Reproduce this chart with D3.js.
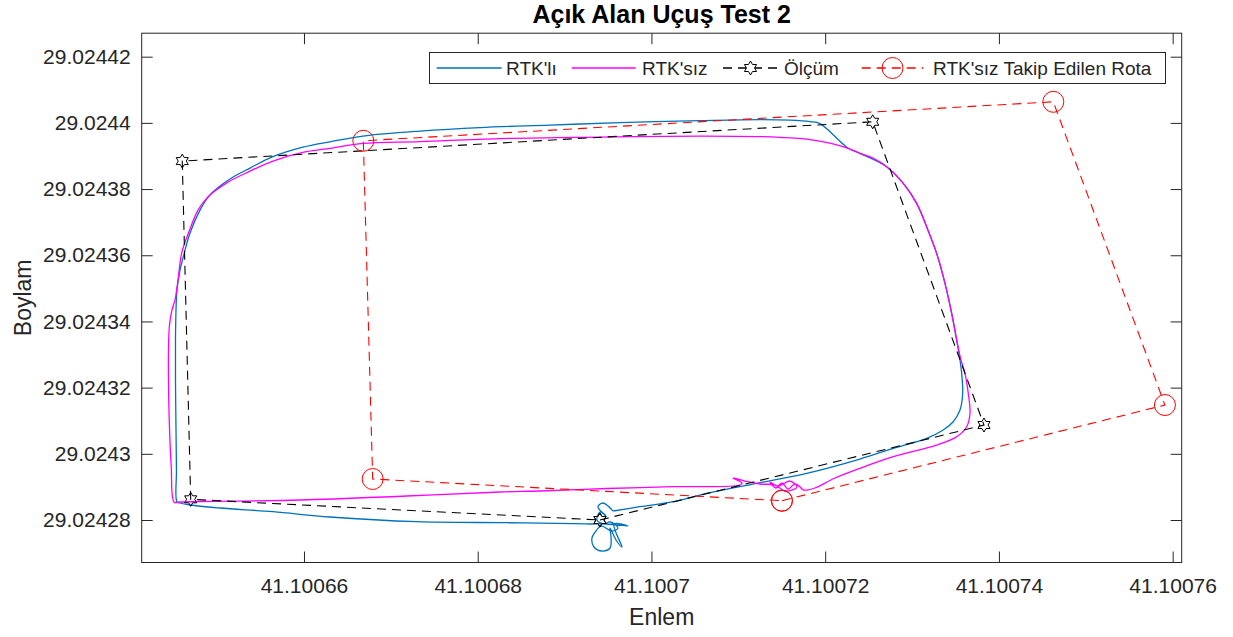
<!DOCTYPE html>
<html>
<head>
<meta charset="utf-8">
<script src="https://cdn.jsdelivr.net/npm/d3@7"></script>
<style>
  body { margin: 0; background: #ffffff; }
  svg text { font-family: "Liberation Sans", Arial, Helvetica, sans-serif; fill: #262626; }
</style>
</head>
<body>
<svg id="chart" width="1233" height="637"></svg>
<script>
// ---- Flight data: [Enlem, Boylam] ----
const rtkli = [
  [41.10069557, 29.02428272], [41.10069442, 29.02428514], [41.10069384, 29.02428393], [41.10069477, 29.02428121],
  [41.10069407, 29.02428242], [41.10069373, 29.02428000], [41.10069453, 29.02427879], [41.10069523, 29.02427940],
  [41.10069615, 29.02427758], [41.10069546, 29.02427668], [41.10069419, 29.02427819], [41.10069361, 29.02427668],
  [41.10069315, 29.02427456], [41.10069338, 29.02427184], [41.10069430, 29.02427063], [41.10069523, 29.02427154],
  [41.10069534, 29.02427517], [41.10069523, 29.02427758], [41.10069592, 29.02427396], [41.10069661, 29.02427184],
  [41.10069569, 29.02427879], [41.10069730, 29.02427819], [41.10069477, 29.02427879], [41.10069292, 29.02427879],
  [41.10069097, 29.02427888], [41.10068337, 29.02427918], [41.10067301, 29.02427949], [41.10066299, 29.02428091],
  [41.10065643, 29.02428251], [41.10065033, 29.02428363], [41.10064688, 29.02428453], [41.10064573, 29.02428514],
  [41.10064538, 29.02428553], [41.10064532, 29.02429511], [41.10064527, 29.02430719], [41.10064521, 29.02432230],
  [41.10064521, 29.02433438], [41.10064527, 29.02434344], [41.10064538, 29.02434949], [41.10064573, 29.02435553],
  [41.10064622, 29.02436066], [41.10064688, 29.02436671], [41.10064803, 29.02437365], [41.10064906, 29.02437788],
  [41.10065033, 29.02438090], [41.10065194, 29.02438378], [41.10065378, 29.02438634], [41.10065643, 29.02438982],
  [41.10065988, 29.02439269], [41.10066299, 29.02439429], [41.10066679, 29.02439601], [41.10067335, 29.02439752],
  [41.10068026, 29.02439858], [41.10068832, 29.02439933], [41.10069638, 29.02440009], [41.10070559, 29.02440069],
  [41.10071249, 29.02440100], [41.10071595, 29.02440084], [41.10071825, 29.02440039], [41.10071940, 29.02439979],
  [41.10072262, 29.02439239], [41.10072400, 29.02439078], [41.10072708, 29.02438674], [41.10072899, 29.02438172],
  [41.10073053, 29.02437568], [41.10073168, 29.02436861], [41.10073283, 29.02436057], [41.10073379, 29.02435151],
  [41.10073456, 29.02434245], [41.10073514, 29.02433438], [41.10073552, 29.02432834], [41.10073571, 29.02432432],
  [41.10073583, 29.02431828], [41.10073552, 29.02431323], [41.10073474, 29.02430970], [41.10073359, 29.02430719],
  [41.10073168, 29.02430468], [41.10072784, 29.02430166], [41.10072400, 29.02429843], [41.10071787, 29.02429411],
  [41.10071211, 29.02429109], [41.10070636, 29.02428807], [41.10070251, 29.02428553], [41.10069868, 29.02428402],
  [41.10069561, 29.02428272]
];

const rtksiz = [
  [41.10071744, 29.02428906], [41.10071652, 29.02429088], [41.10071572, 29.02428937], [41.10071502, 29.02429118],
  [41.10071433, 29.02428967], [41.10071364, 29.02429148], [41.10071456, 29.02429027], [41.10071595, 29.02429178],
  [41.10071675, 29.02428997], [41.10071537, 29.02428876], [41.10071422, 29.02429057], [41.10071249, 29.02429088],
  [41.10071077, 29.02429178], [41.10070938, 29.02429269], [41.10071042, 29.02429118], [41.10071019, 29.02429057],
  [41.10070251, 29.02429006], [41.10069485, 29.02428952], [41.10068717, 29.02428876], [41.10068256, 29.02428846],
  [41.10067182, 29.02428725], [41.10065954, 29.02428604], [41.10064803, 29.02428559], [41.10064573, 29.02428544],
  [41.10064507, 29.02428535], [41.10064472, 29.02429610], [41.10064449, 29.02431021], [41.10064440, 29.02432230],
  [41.10064440, 29.02433136], [41.10064452, 29.02433891], [41.10064480, 29.02434344], [41.10064515, 29.02434646],
  [41.10064550, 29.02435251], [41.10064592, 29.02436066], [41.10064670, 29.02436671], [41.10064780, 29.02437365],
  [41.10064872, 29.02437698], [41.10064975, 29.02437939], [41.10065125, 29.02438211], [41.10065355, 29.02438513],
  [41.10065643, 29.02438846], [41.10065988, 29.02439109], [41.10066299, 29.02439229], [41.10066679, 29.02439381],
  [41.10067335, 29.02439435], [41.10068256, 29.02439526], [41.10069407, 29.02439571], [41.10070559, 29.02439601],
  [41.10071249, 29.02439586], [41.10071480, 29.02439562], [41.10071863, 29.02439480], [41.10072247, 29.02439248],
  [41.10072400, 29.02439078], [41.10072550, 29.02438936], [41.10072708, 29.02438674], [41.10072899, 29.02438172],
  [41.10073053, 29.02437568], [41.10073168, 29.02436861], [41.10073283, 29.02436057], [41.10073379, 29.02435151],
  [41.10073456, 29.02434245], [41.10073514, 29.02433438], [41.10073563, 29.02432834], [41.10073609, 29.02432432],
  [41.10073647, 29.02431828], [41.10073667, 29.02431224], [41.10073629, 29.02430819], [41.10073514, 29.02430517],
  [41.10073283, 29.02430266], [41.10072784, 29.02429912], [41.10072400, 29.02429562], [41.10072113, 29.02429269],
  [41.10071882, 29.02428967], [41.10071787, 29.02428906], [41.10071744, 29.02428906]
];

const olcum = [
  [41.10069407, 29.02428000], [41.10073828, 29.02430870], [41.10072547, 29.02440033],
  [41.10064599, 29.02438846], [41.10064696, 29.02428625], [41.10069407, 29.02428000]
];

const takipRota = [
  [41.10071502, 29.02428583], [41.10075911, 29.02431474], [41.10074626, 29.02440637],
  [41.10066683, 29.02439459], [41.10066791, 29.02429239], [41.10071502, 29.02428583]
];

const xTicks = [41.10066, 41.10068, 41.1007, 41.10072, 41.10074, 41.10076];
const xTickLabels = ["41.10066", "41.10068", "41.1007", "41.10072", "41.10074", "41.10076"];
const yTicks = [29.02428, 29.0243, 29.02432, 29.02434, 29.02436, 29.02438, 29.0244, 29.02442];
const yTickLabels = ["29.02428", "29.0243", "29.02432", "29.02434", "29.02436", "29.02438", "29.0244", "29.02442"];
const xLimits = [41.10064132, 41.10076104];
const yLimits = [29.02426716, 29.0244271];
const seriesNames = ["RTK'lı", "RTK'sız", "Ölçüm", "RTK'sız Takip Edilen Rota"];
const chartTitle = "Açık Alan Uçuş Test 2";
const xLabel = "Enlem";
const yLabel = "Boylam";

// ---- Layout ----
const axL = 141.7, axR = 1181.7, axT = 33.2, axB = 562.5;
const ink = "#262626";
const colBlue = "#0072BD", colMag = "#FF00FF", colBlack = "#000000", colRed = "#FF0000";

const svg = d3.select("#chart");

const x = d3.scaleLinear().domain(xLimits).range([axL, axR]);
const y = d3.scaleLinear().domain(yLimits).range([axB, axT]);

svg.append("defs").append("clipPath").attr("id", "plotClip")
  .append("rect").attr("x", axL).attr("y", axT).attr("width", axR - axL).attr("height", axB - axT);

// ---- Axes (inward ticks, mirrored on top/right) ----
function styleAxis(g) {
  g.select(".domain").remove();
  g.selectAll(".tick line").attr("stroke", ink).attr("stroke-width", 1);
  g.selectAll(".tick text").attr("fill", ink)
    .attr("font-family", "Liberation Sans, Arial, sans-serif").attr("font-size", 21);
}

svg.append("g").attr("transform", `translate(0,${axB})`)
  .call(d3.axisBottom(x).tickValues(xTicks).tickFormat((d, i) => xTickLabels[i])
    .tickSizeInner(-11).tickSizeOuter(0).tickPadding(16))
  .call(styleAxis);

svg.append("g").attr("transform", `translate(${axL},0)`)
  .call(d3.axisLeft(y).tickValues(yTicks).tickFormat((d, i) => yTickLabels[i])
    .tickSizeInner(-11).tickSizeOuter(0).tickPadding(11))
  .call(styleAxis);

svg.append("g").attr("transform", `translate(0,${axT})`)
  .call(d3.axisTop(x).tickValues(xTicks).tickFormat(() => "").tickSizeInner(-11).tickSizeOuter(0))
  .call(styleAxis);

svg.append("g").attr("transform", `translate(${axR},0)`)
  .call(d3.axisRight(y).tickValues(yTicks).tickFormat(() => "").tickSizeInner(-11).tickSizeOuter(0))
  .call(styleAxis);

svg.append("rect").attr("x", axL).attr("y", axT).attr("width", axR - axL).attr("height", axB - axT)
  .attr("fill", "none").attr("stroke", ink).attr("stroke-width", 1);

// ---- Series ----
const plot = svg.append("g").attr("clip-path", "url(#plotClip)");
const line = d3.line().x(d => x(d[0])).y(d => y(d[1]));
const smoothLine = d3.line().x(d => x(d[0])).y(d => y(d[1])).curve(d3.curveCatmullRom.alpha(0.5));

function hexagramPath(r) {
  const pts = [];
  for (let i = 0; i < 12; i++) {
    const a = -Math.PI / 2 + i * Math.PI / 6;
    const rr = i % 2 === 0 ? r : r / Math.sqrt(3);
    pts.push([rr * Math.cos(a), rr * Math.sin(a)]);
  }
  return "M" + pts.map(p => p[0].toFixed(2) + "," + p[1].toFixed(2)).join("L") + "Z";
}
const starR = 7, circR = 10.5;

plot.append("path").datum(rtkli).attr("d", smoothLine)
  .attr("fill", "none").attr("stroke", colBlue).attr("stroke-width", 1.3).attr("stroke-linejoin", "round");

plot.append("path").datum(rtksiz).attr("d", smoothLine)
  .attr("fill", "none").attr("stroke", colMag).attr("stroke-width", 1.3).attr("stroke-linejoin", "round");

plot.append("path").datum(olcum).attr("d", line)
  .attr("fill", "none").attr("stroke", colBlack).attr("stroke-width", 1.1).attr("stroke-dasharray", "9,6");
plot.selectAll(".olcumMark").data(olcum).enter().append("path").attr("class", "olcumMark")
  .attr("transform", d => `translate(${x(d[0])},${y(d[1])})`)
  .attr("d", hexagramPath(starR)).attr("fill", "none").attr("stroke", colBlack).attr("stroke-width", 1);

plot.append("path").datum(takipRota).attr("d", line)
  .attr("fill", "none").attr("stroke", colRed).attr("stroke-width", 1.1).attr("stroke-dasharray", "9,6");
plot.selectAll(".rotaMark").data(takipRota).enter().append("circle").attr("class", "rotaMark")
  .attr("cx", d => x(d[0])).attr("cy", d => y(d[1])).attr("r", circR)
  .attr("fill", "none").attr("stroke", colRed).attr("stroke-width", 1);

// ---- Title and axis labels ----
svg.append("text").attr("x", (axL + axR) / 2).attr("y", 22.5).attr("text-anchor", "middle")
  .attr("font-size", 25).attr("font-weight", "bold").style("fill", "#000").text(chartTitle);
svg.append("text").attr("x", (axL + axR) / 2).attr("y", 625).attr("text-anchor", "middle")
  .attr("font-size", 23).text(xLabel);
svg.append("text").attr("transform", `translate(31,${(axT + axB) / 2}) rotate(-90)`)
  .attr("text-anchor", "middle").attr("font-size", 23).text(yLabel);

// ---- Legend ----
const lg = svg.append("g");
lg.append("rect").attr("x", 429.5).attr("y", 52.5).attr("width", 736).attr("height", 31)
  .attr("fill", "#fff").attr("stroke", ink).attr("stroke-width", 1);
const lgY = 68, lgTextY = 74.8;
const legendItems = [
  { x0: 436.7, x1: 501.7, tx: 506, color: colBlue, dash: null, marker: null },
  { x0: 571.7, x1: 635.7, tx: 642, color: colMag, dash: null, marker: null },
  { x0: 723, x1: 778, tx: 784, color: colBlack, dash: "9,6", marker: "star" },
  { x0: 861.7, x1: 923.3, tx: 933, color: colRed, dash: "9,6", marker: "circle" }
];
legendItems.forEach((it, i) => {
  const ln = lg.append("line").attr("x1", it.x0).attr("x2", it.x1).attr("y1", lgY).attr("y2", lgY)
    .style("stroke", it.color).style("stroke-width", 1.4);
  if (it.dash) ln.style("stroke-dasharray", it.dash);
  const cx = (it.x0 + it.x1) / 2;
  if (it.marker === "star") {
    lg.append("path").attr("transform", `translate(${cx},${lgY})`).attr("d", hexagramPath(starR))
      .style("fill", "#fff").style("stroke", it.color).style("stroke-width", 1);
  } else if (it.marker === "circle") {
    lg.append("circle").attr("cx", cx).attr("cy", lgY).attr("r", circR)
      .style("fill", "none").style("stroke", it.color).style("stroke-width", 1);
  }
  lg.append("text").attr("x", it.tx).attr("y", lgTextY).attr("font-size", 19).text(seriesNames[i]);
});
</script>
</body>
</html>
